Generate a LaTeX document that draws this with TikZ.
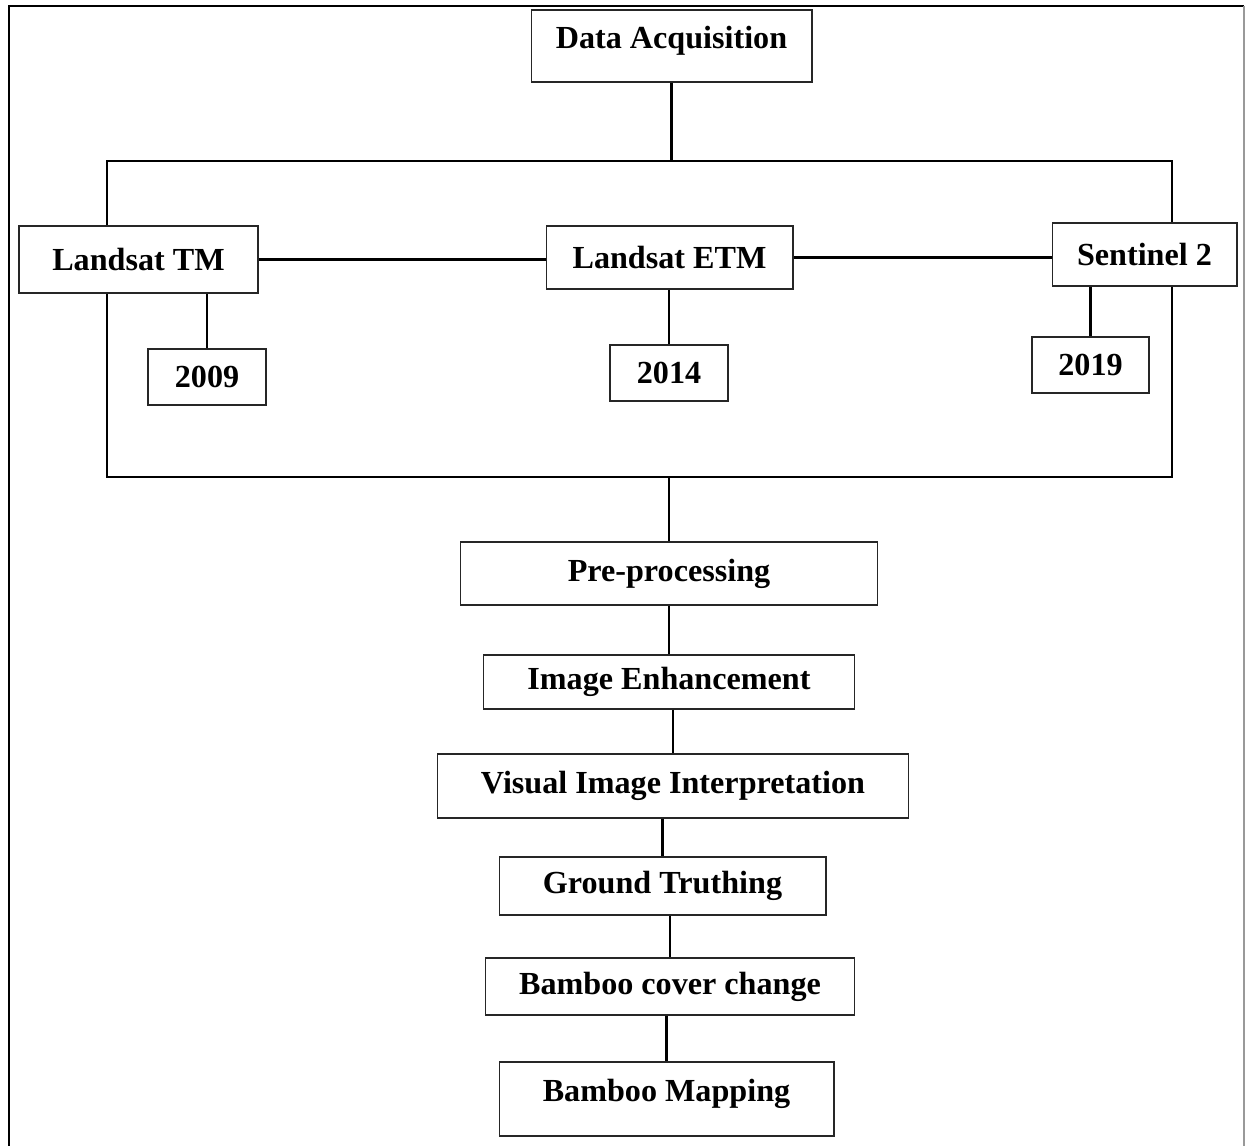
\documentclass[tikz,border=0pt]{standalone}
\usepackage{fontspec}
\setmainfont{Liberation Serif}

\begin{document}
\begin{tikzpicture}[x=0.02cm,y=-0.02cm,
        box/.style={draw=black!85,line width=0.6pt,inner sep=0pt,font=\fontsize{18.3}{22}\selectfont\bfseries},
        wire/.style={line width=1.35pt}]
        \useasboundingbox (0,0) rectangle (1245,1146);

        % draw outer frame
        \draw[line width=1.6pt] (9,1146) -- (9,6) -- (1244,6);
        \draw[black!40,line width=0.6pt] (1244,6) -- (1244,1146);

        % draw sensor boxes
        \node[box,minimum width=5.62cm,minimum height=1.44cm,text depth=0.33cm] (acq) at (671.5,46) {Data Acquisition};
        \node[box,minimum width=4.78cm,minimum height=1.34cm] (tm) at (138.5,259.5) {Landsat TM};
        \node[box,minimum width=4.94cm,minimum height=1.26cm] (etm) at (669.5,257.5) {Landsat ETM};
        \node[box,minimum width=3.70cm,minimum height=1.26cm] (sen) at (1144.5,254.5) {Sentinel 2};

        % draw year boxes
        \node[box,minimum width=2.36cm,minimum height=1.12cm] (y09) at (207,377) {2009};
        \node[box,minimum width=2.36cm,minimum height=1.12cm] (y14) at (669,373) {2014};
        \node[box,minimum width=2.34cm,minimum height=1.12cm] (y19) at (1090.5,365) {2019};

        % draw processing steps
        \node[box,minimum width=8.36cm,minimum height=1.26cm] (pre) at (669,573.5) {Pre-processing};
        \node[box,minimum width=7.44cm,minimum height=1.08cm] (enh) at (669,682) {Image Enhancement};
        \node[box,minimum width=9.44cm,minimum height=1.28cm] (vis) at (673,786) {Visual Image Interpretation};
        \node[box,minimum width=6.54cm,minimum height=1.16cm] (gt) at (662.5,886) {Ground Truthing};
        \node[box,minimum width=7.40cm,minimum height=1.14cm] (bcc) at (670,986.5) {Bamboo cover change};
        \node[box,minimum width=6.70cm,minimum height=1.48cm,text depth=0.33cm] (map) at (666.5,1099) {Bamboo Mapping};

        % corners of the two buses
        \coordinate (tl) at (107,161);
        \coordinate (tr) at (1172,161);
        \coordinate (bl) at (107,477);
        \coordinate (br) at (1172,477);

        % draw connectors
        \draw[wire] (acq.south) -- (acq.south |- tl);
        \draw[wire] (tm.north -| tl) -- (tl) -- (tr) -- (sen.north -| tr);
        \draw[wire] (tm.south -| bl) -- (bl) -- (br) -- (sen.south -| br);
        \draw[wire] (tm.east) -- (tm.east -| etm.west);
        \draw[wire] (etm.east) -- (etm.east -| sen.west);
        \draw[wire] (y09.north |- tm.south) -- (y09.north);
        \draw[wire] (y14.north |- etm.south) -- (y14.north);
        \draw[wire] (y19.north |- sen.south) -- (y19.north);
        \draw[wire] (pre.north |- bl) -- (pre.north);
        \foreach \a/\b in {pre/enh,enh/vis,vis/gt,gt/bcc,bcc/map}
            \draw[wire] (\b.north |- \a.south) -- (\b.north);
\end{tikzpicture}
\end{document}
